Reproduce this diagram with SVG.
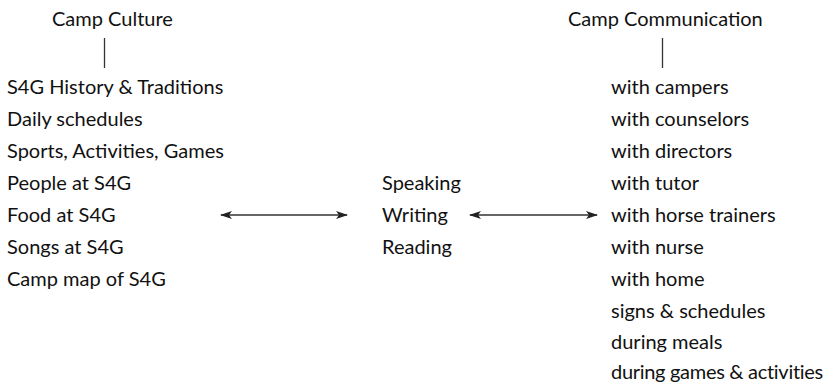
<svg xmlns="http://www.w3.org/2000/svg" width="828" height="386" viewBox="0 0 828 386">
<style>
text{font-family:Lato,"Open Sans",sans-serif;font-size:20px;fill:#111}
.ln{stroke:#333;stroke-width:1.3;fill:none}
</style>
<defs>
<marker id="ah" viewBox="0 0 12 8" refX="11" refY="4" markerWidth="12" markerHeight="8" markerUnits="userSpaceOnUse" orient="auto-start-reverse">
<path d="M0,0 L12,4 L0,8 L3,4 Z" fill="#222"/>
</marker>
</defs>
<rect width="828" height="386" fill="#fff"/>
<g id="camp-culture">
<text x="52" y="26">Camp Culture</text>
<text x="7" y="94">S4G History &amp; Traditions</text>
<text x="7" y="126">Daily schedules</text>
<text x="7" y="158">Sports, Activities, Games</text>
<text x="7" y="190">People at S4G</text>
<text x="7" y="222">Food at S4G</text>
<text x="7" y="254">Songs at S4G</text>
<text x="7" y="286">Camp map of S4G</text>
</g>
<g id="skills">
<text x="382" y="190">Speaking</text>
<text x="382" y="222">Writing</text>
<text x="382" y="254">Reading</text>
</g>
<g id="camp-communication">
<text x="568" y="26">Camp Communication</text>
<text x="611" y="94">with campers</text>
<text x="611" y="126">with counselors</text>
<text x="611" y="158">with directors</text>
<text x="611" y="190">with tutor</text>
<text x="611" y="222">with horse trainers</text>
<text x="611" y="254">with nurse</text>
<text x="611" y="286">with home</text>
<text x="611" y="317.5">signs &amp; schedules</text>
<text x="611" y="348.5">during meals</text>
<text x="611" y="378.5" font-size="19" letter-spacing="-0.3">during games &amp; activities</text>
</g>
<g id="connectors">
<line class="ln" x1="104.5" y1="38" x2="104.5" y2="68"/>
<line class="ln" x1="662.5" y1="38" x2="662.5" y2="68"/>
<line class="ln" x1="221" y1="215" x2="347" y2="215" marker-start="url(#ah)" marker-end="url(#ah)"/>
<line class="ln" x1="470" y1="215" x2="597" y2="215" marker-start="url(#ah)" marker-end="url(#ah)"/>
</g>
</svg>
